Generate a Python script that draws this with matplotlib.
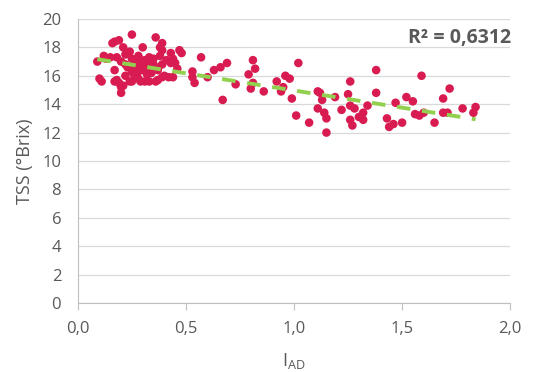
import numpy as np
import matplotlib
matplotlib.use('Agg')
import matplotlib.pyplot as plt
from matplotlib.ticker import FuncFormatter

plt.rcParams['font.family'] = ['Open Sans', 'DejaVu Sans']
plt.rcParams['mathtext.fontset'] = 'custom'
plt.rcParams['mathtext.rm'] = 'Open Sans'

# I_AD (x) and TSS in °Brix (y)
iad = [0.09, 0.10, 0.11, 0.12, 0.13, 0.15, 0.16, 0.17, 0.17, 0.17, 0.18, 0.18,
       0.19, 0.19, 0.20, 0.20, 0.20, 0.21, 0.21, 0.22, 0.22, 0.22, 0.23, 0.24,
       0.24, 0.25, 0.25, 0.25, 0.25, 0.26, 0.26, 0.27, 0.27, 0.27, 0.28, 0.28,
       0.28, 0.29, 0.29, 0.29, 0.30, 0.30, 0.30, 0.31, 0.31, 0.31, 0.32, 0.32,
       0.33, 0.33, 0.33, 0.34, 0.34, 0.35, 0.35, 0.36, 0.36, 0.36, 0.37, 0.37,
       0.38, 0.38, 0.39, 0.39, 0.39, 0.39, 0.40, 0.41, 0.42, 0.43, 0.43, 0.44,
       0.44, 0.45, 0.46, 0.47, 0.48,
       0.53, 0.53, 0.54, 0.57, 0.60, 0.63, 0.66, 0.67, 0.69, 0.73, 0.79, 0.80,
       0.81, 0.81, 0.82, 0.86, 0.92, 0.94, 0.95, 0.96, 0.98, 0.99, 1.01, 1.02,
       1.07, 1.11, 1.11, 1.12, 1.13, 1.14, 1.15, 1.15, 1.19, 1.22, 1.25, 1.26,
       1.26, 1.28, 1.26, 1.27, 1.30, 1.32, 1.32, 1.34, 1.38, 1.38, 1.43, 1.44,
       1.46, 1.47, 1.50, 1.52, 1.55, 1.56, 1.58, 1.59, 1.60, 1.65, 1.69, 1.69,
       1.71, 1.72, 1.78, 1.83, 1.84]
tss = [17.0, 15.8, 15.6, 17.4, 17.2, 17.3, 18.3, 18.4, 16.4, 15.6, 17.3, 15.7,
       18.5, 15.5, 15.2, 14.8, 17.0, 18.0, 15.3, 17.5, 16.0, 16.8, 16.6, 17.7,
       15.6, 18.9, 17.2, 16.3, 15.6, 16.8, 16.1, 17.0, 16.4, 16.0, 17.4, 15.8,
       16.3, 15.6, 16.7, 17.1, 18.0, 16.6, 16.4, 15.6, 17.1, 16.5, 17.0, 16.1,
       16.6, 15.6, 17.3, 16.2, 16.6, 17.2, 16.8, 18.7, 16.6, 15.6, 16.4, 15.7,
       18.0, 17.4, 18.3, 17.8, 16.8, 15.9, 16.0, 17.1, 15.9, 16.9, 17.6, 17.2,
       15.9, 16.9, 16.5, 17.8, 17.6,
       16.3, 15.9, 15.5, 17.3, 15.9, 16.4, 16.6, 14.3, 16.9, 15.4, 16.1, 15.1,
       17.1, 15.5, 16.5, 14.9, 15.6, 14.9, 15.2, 16.0, 15.8, 14.4, 13.2, 16.9,
       12.7, 14.9, 13.7, 14.8, 14.3, 13.4, 13.0, 12.0, 14.5, 13.6, 14.7, 15.6,
       13.9, 13.7, 12.9, 12.5, 13.1, 12.9, 13.4, 13.9, 16.4, 14.8, 13.0, 12.4,
       12.6, 14.1, 12.7, 14.5, 14.2, 13.3, 13.2, 16.0, 13.4, 12.7, 14.4, 13.4,
       13.4, 15.1, 13.7, 13.4, 13.8]
r2_text = 'R² = 0,6312'

iad = np.array(iad)
tss = np.array(tss)

grey = '#595959'
fig = plt.figure(figsize=(5.37, 3.72), dpi=100)
ax = fig.add_axes([0.145, 0.1855, 0.805, 0.7635])

ax.scatter(iad, tss, s=38, color='#D81B50', edgecolors='none', zorder=3)

# linear trendline
k, b = np.polyfit(iad, tss, 1)
xl = np.array([iad.min(), iad.max()])
ax.plot(xl, k * xl + b, color='#92D050', lw=2.8, dashes=(3.5, 3),
        dash_capstyle='butt', zorder=4)

ax.text(2.005, 18.65, r2_text, ha='right', va='center', fontsize=14,
        fontweight='bold', color=grey)

ax.set_xlim(0, 2.0)
ax.set_ylim(0, 20)
ax.set_xticks(np.arange(0, 2.01, 0.5))
ax.set_yticks(np.arange(0, 21, 2))
ax.xaxis.set_major_formatter(FuncFormatter(lambda v, p: f'{v:.1f}'.replace('.', ',')))
ax.grid(axis='y', color='#D9D9D9', lw=0.9)
ax.set_axisbelow(True)

for s in ['top', 'right']:
    ax.spines[s].set_visible(False)
for s in ['left', 'bottom']:
    ax.spines[s].set_color('#BFBFBF')
ax.tick_params(axis='x', colors='#BFBFBF', labelcolor=grey, labelsize=12, length=5, pad=8)
ax.tick_params(axis='y', length=0, labelcolor=grey, labelsize=12, pad=12)

ax.set_xlabel(r'I$_{\mathrm{AD}}$', fontsize=13, color=grey, labelpad=10)
ax.set_ylabel('TSS (°Brix)', fontsize=13, color=grey, labelpad=6)

fig.savefig('out.png', dpi=100)
